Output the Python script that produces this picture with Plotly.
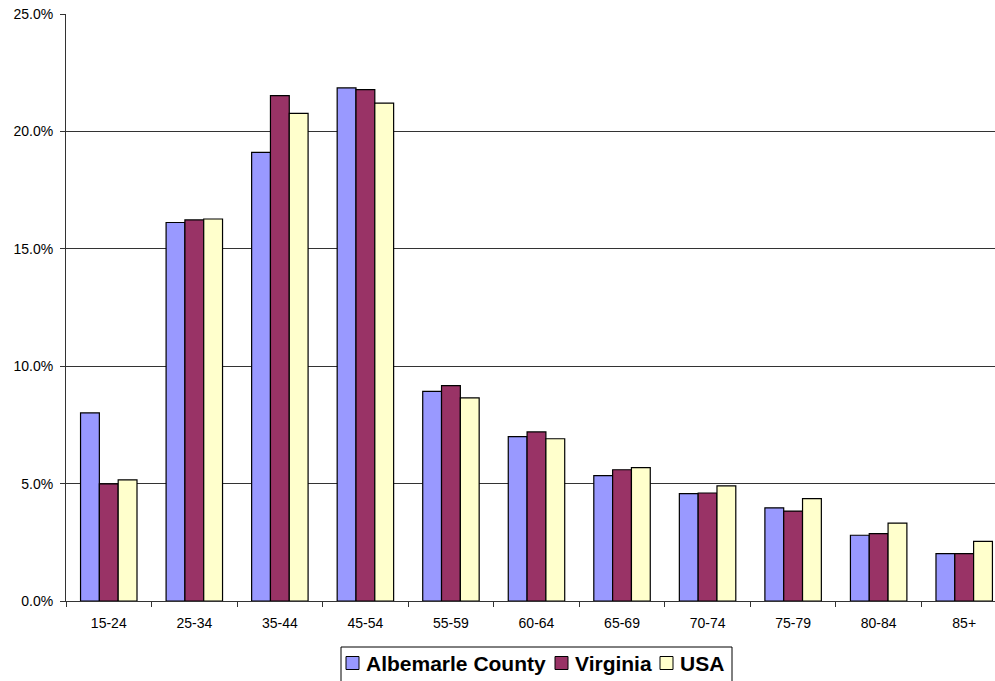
import plotly.graph_objects as go

# Age groups and population share (fraction of total) for each area
age_groups = ["15-24", "25-34", "35-44", "45-54", "55-59", "60-64",
              "65-69", "70-74", "75-79", "80-84", "85+"]
albemarle = [0.0801, 0.1612, 0.1911, 0.2185, 0.0893, 0.0700,
             0.0534, 0.0457, 0.0397, 0.0280, 0.0202]
virginia = [0.0499, 0.1623, 0.2152, 0.2178, 0.0917, 0.0720,
            0.0559, 0.0460, 0.0383, 0.0287, 0.0202]
usa = [0.0516, 0.1627, 0.2077, 0.2120, 0.0865, 0.0691,
       0.0568, 0.0490, 0.0436, 0.0332, 0.0254]

series_names = ["Albemarle County", "Virginia", "USA"]
series_values = [albemarle, virginia, usa]
series_colors = ["#9999FF", "#993366", "#FFFFCC"]

FONT = "Liberation Sans, Arial, sans-serif"

W, H = 995, 681
ML, MR, MT, MB = 66, 0, 14, 80
PW, PH = W - ML - MR, H - MT - MB


def px_x(x):
    """Pixel column -> paper x."""
    return (x - ML) / PW


def px_y(y):
    """Pixel row -> paper y."""
    return (H - MB - y) / PH


fig = go.Figure()
for name, vals, color in zip(series_names, series_values, series_colors):
    fig.add_trace(go.Bar(
        name=name, x=age_groups, y=vals, showlegend=False,
        marker=dict(color=color, line=dict(color="#000000", width=1.2)),
    ))

# Boxed legend below the plot: swatch + bold label per series
legend_box = dict(x0=341, x1=732, y0=647, y1=700)
swatch_x = [346, 555, 660]
label_x = [364, 573, 678]
row_mid = 663
sw = 13

shapes = [dict(
    type="rect", xref="paper", yref="paper",
    x0=px_x(legend_box["x0"]), x1=px_x(legend_box["x1"]),
    y0=px_y(legend_box["y0"]), y1=px_y(legend_box["y1"]),
    line=dict(color="#000000", width=1), fillcolor="white", layer="above",
)]
annotations = []
for name, color, sx, lx in zip(series_names, series_colors, swatch_x, label_x):
    shapes.append(dict(
        type="rect", xref="paper", yref="paper",
        x0=px_x(sx), x1=px_x(sx + sw),
        y0=px_y(row_mid - sw / 2), y1=px_y(row_mid + sw / 2),
        line=dict(color="#000000", width=1), fillcolor=color, layer="above",
    ))
    annotations.append(dict(
        text=f"<b>{name}</b>", xref="paper", yref="paper",
        x=px_x(lx), y=px_y(row_mid), xanchor="left", yanchor="middle",
        showarrow=False,
        font=dict(family=FONT, size=21, color="#000000"),
    ))

fig.update_layout(
    width=W, height=H,
    margin=dict(l=ML, r=MR, t=MT, b=MB, autoexpand=False),
    paper_bgcolor="white", plot_bgcolor="white",
    barmode="group", bargap=0.34, bargroupgap=0,
    font=dict(family=FONT, size=14, color="#000000"),
    showlegend=False,
    shapes=shapes,
    annotations=annotations,
    xaxis=dict(
        type="category", range=[-0.5, 10.36],
        showline=True, linecolor="#333333", linewidth=1,
        ticks="outside", tickson="boundaries", ticklen=5,
        tickcolor="#333333", showgrid=False, ticklabelstandoff=9,
        tickfont=dict(family=FONT, size=14, color="#000000"),
    ),
    yaxis=dict(
        range=[0, 0.25], dtick=0.05, tickformat=".1%",
        showline=True, linecolor="#333333", linewidth=1,
        ticks="outside", ticklen=5, tickcolor="#333333",
        showgrid=True, gridcolor="#333333", gridwidth=1,
        zeroline=False, ticklabelstandoff=4,
        tickfont=dict(family=FONT, size=14, color="#000000"),
    ),
)

fig.write_html("out.html")
